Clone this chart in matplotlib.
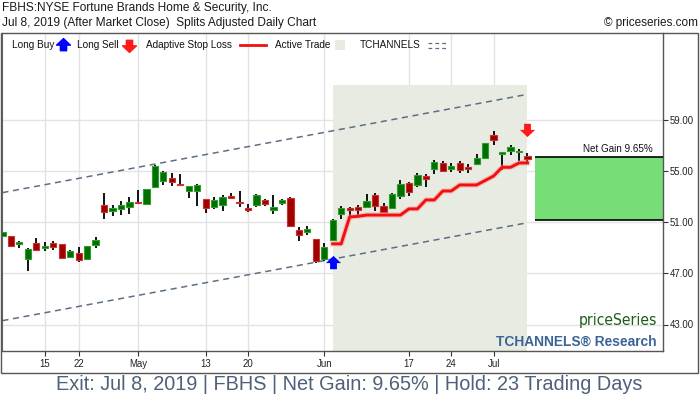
import numpy as np
import matplotlib
matplotlib.use("Agg")
import matplotlib.pyplot as plt
from matplotlib.path import Path
from matplotlib.patches import Rectangle
from matplotlib.lines import Line2D
from matplotlib import font_manager as fm

# ---------------- data ----------------
opens = [49.95, 49.91, 49.30, 48.12, 49.34, 48.95, 49.37, 49.27, 48.30, 48.59,
         48.12, 49.23, 52.34, 51.84, 52.00, 52.18, 52.60, 52.41, 53.77, 54.21,
         54.45, 53.97, 53.45, 53.43, 52.78, 52.18, 52.36, 53.04, 52.57, 52.08,
         52.31, 52.70, 51.97, 52.47, 52.88, 50.38, 50.20, 49.66, 48.09, 49.60,
         51.63, 52.10, 52.16, 52.16, 53.09, 52.23, 52.08, 53.04, 54.03, 53.87,
         54.60, 55.17, 55.62, 55.17, 55.62, 55.28, 55.56, 55.98, 57.80, 56.34,
         56.58, 56.45, 56.16]
highs = [50.25, 49.95, 49.50, 48.95, 49.73, 49.42, 49.55, 49.32, 48.84, 49.03,
         49.15, 49.86, 53.25, 52.31, 52.67, 52.94, 53.48, 53.60, 55.45, 54.97,
         54.81, 54.73, 53.85, 53.98, 52.80, 52.94, 53.12, 53.25, 53.43, 52.41,
         53.20, 52.80, 53.09, 52.83, 52.95, 50.59, 50.70, 49.70, 49.39, 51.22,
         52.26, 52.20, 52.36, 53.20, 53.30, 52.47, 53.25, 54.31, 54.10, 54.81,
         54.76, 55.85, 55.75, 55.59, 55.75, 55.56, 56.30, 57.20, 58.14, 56.50,
         57.02, 56.73, 56.38]
lows = [49.90, 49.03, 48.97, 47.20, 48.72, 48.77, 48.84, 48.08, 48.27, 47.91,
        48.05, 48.98, 51.22, 51.48, 51.55, 51.63, 52.39, 52.31, 53.72, 53.87,
        53.82, 53.85, 52.88, 52.28, 51.69, 52.05, 51.89, 52.78, 52.16, 51.77,
        52.16, 52.26, 51.66, 52.31, 50.70, 49.55, 49.97, 47.83, 47.98, 49.55,
        51.22, 51.42, 51.50, 52.08, 51.89, 51.71, 52.02, 52.78, 53.04, 53.72,
        53.72, 54.76, 54.89, 54.89, 54.86, 54.81, 55.52, 55.95, 57.02, 55.07,
        56.22, 55.80, 55.70]
closes = [50.20, 49.16, 49.45, 48.90, 48.82, 49.13, 49.06, 48.22, 48.74, 48.04,
          49.13, 49.60, 51.81, 52.10, 52.34, 52.55, 52.47, 53.56, 55.38, 54.89,
          54.16, 53.88, 53.82, 53.90, 52.13, 52.70, 52.94, 52.91, 52.49, 51.97,
          53.14, 52.39, 52.18, 52.75, 50.72, 49.97, 50.46, 47.98, 49.03, 51.16,
          52.08, 51.97, 51.92, 52.65, 52.23, 51.79, 53.20, 53.98, 53.35, 54.66,
          54.39, 55.70, 54.99, 55.36, 55.10, 55.17, 55.98, 57.16, 57.44, 56.48,
          56.84, 56.55, 55.91]

entry_idx = 39
exit_idx = 62
stop_loss = [49.30, 49.30, 51.40, 51.45, 51.55, 51.55, 51.55, 51.55, 51.55, 52.03,
             52.03, 52.73, 52.73, 53.43, 53.43, 53.90, 53.90, 53.90, 54.25, 54.60,
             55.28, 55.28, 55.62, 55.62]
buy_arrow_price = 47.80
sell_arrow_price = 58.25
entry_price = 51.14
exit_price = 56.08

channel_x = [0, 62]
channel_upper = [53.30, 60.98]
channel_lower = [43.30, 50.95]

xtick_pos = [5, 9, 16, 24, 29, 38, 48, 53, 58]
xtick_labels = ["15", "22", "May", "13", "20", "Jun", "17", "24", "Jul"]
ytick_vals = [43, 47, 51, 55, 59]

title1 = "FBHS:NYSE Fortune Brands Home & Security, Inc."
title2 = "Jul 8, 2019 (After Market Close)  Splits Adjusted Daily Chart"
caption = "Exit: Jul 8, 2019 | FBHS | Net Gain: 9.65% | Hold: 23 Trading Days"
gain_label = "Net Gain 9.65%"

# ---------------- style ----------------
plt.rcParams["font.family"] = ["Liberation Sans", "DejaVu Sans"]
W, H = 700, 400
fig = plt.figure(figsize=(7, 4), dpi=100)

def fx(x):
    return x / W

def fy(y):
    return 1 - y / H

AX_L, AX_R, AX_T, AX_B = 2, 663, 33, 351
ax = fig.add_axes([fx(AX_L), fy(AX_B), (AX_R - AX_L) / W, (AX_B - AX_T) / H])

GREEN_FACE, GREEN_EDGE = "#006f00", "#2e9e2e"
RED_FACE, RED_EDGE = "#a00000", "#c83232"
SHADE = "#e8ebe1"
GRID = "#e3e3e3"
CHAN = "#5d6f84"

x = np.arange(len(opens))
o = np.array(opens); h = np.array(highs); l = np.array(lows); c = np.array(closes)
up = c >= o

ax.set_xlim(-0.05, 78.0)
ax.set_ylim(40.93, 65.77)

# grid
for xp in xtick_pos:
    ax.axvline(xp, color=GRID, lw=1, zorder=0)
for yv in ytick_vals:
    ax.axhline(yv, color=GRID, lw=1, zorder=0)

# active trade shading
ax.axvspan(entry_idx, exit_idx, ymin=0, ymax=0.836, color=SHADE, lw=0, zorder=0.5)

# channels
ax.plot(channel_x, channel_upper, color=CHAN, lw=1.1, ls=(0, (4, 3)), zorder=2)
ax.plot(channel_x, channel_lower, color=CHAN, lw=1.1, ls=(0, (4, 3)), zorder=2)

# candles
ax.vlines(x, l, h, color="black", lw=1.3, zorder=3)
body_lo = np.minimum(o, c)
body_h = np.maximum(np.abs(c - o), 0.07)
ax.bar(x[up], body_h[up], bottom=body_lo[up], width=0.74, color=GREEN_FACE,
       edgecolor=GREEN_EDGE, lw=0.8, zorder=4)
ax.bar(x[~up], body_h[~up], bottom=body_lo[~up], width=0.74, color=RED_FACE,
       edgecolor=RED_EDGE, lw=0.8, zorder=4)

# stop loss
sx = np.arange(entry_idx, entry_idx + len(stop_loss))
ax.plot(sx, stop_loss, color="#ff9090", lw=3.8, alpha=0.5, zorder=5,
        solid_joinstyle="round")
ax.plot(sx, stop_loss, color="#f01010", lw=2.1, zorder=5, solid_joinstyle="round")

# arrows
up_arrow = Path([(-1, 0.05), (0, 1), (1, 0.05), (0.45, 0.05), (0.45, -0.75),
                 (-0.45, -0.75), (-0.45, 0.05), (-1, 0.05)],
                [Path.MOVETO] + [Path.LINETO] * 6 + [Path.CLOSEPOLY])
down_arrow = Path([(vx, -vy) for vx, vy in up_arrow.vertices], up_arrow.codes)
ax.scatter([entry_idx], [buy_arrow_price], marker=up_arrow, s=120, color="#0000ff",
           lw=0, zorder=6)
ax.scatter([exit_idx], [sell_arrow_price], marker=down_arrow, s=120, color="#ff1a1a",
           lw=0, zorder=6)

# net gain box
x1 = ax.get_xlim()[1]
bx0 = exit_idx + 0.9
ax.add_patch(Rectangle((bx0, entry_price), x1 - bx0, exit_price - entry_price,
                       facecolor="#77dd77", edgecolor="none", zorder=2))
ax.hlines([entry_price, exit_price], bx0, x1, color="black", lw=1.2, zorder=3)

# axes styling
ax.spines["top"].set_visible(False)
for s in ["right", "bottom"]:
    ax.spines[s].set_color("#555555")
    ax.spines[s].set_linewidth(1)
ax.spines["left"].set_color("#666666")
ax.yaxis.tick_right()
ax.set_yticks(ytick_vals)
ax.set_yticklabels([f"{v:.2f}" for v in ytick_vals])
ax.set_xticks(xtick_pos)
ax.set_xticklabels(xtick_labels)
ax.tick_params(axis="y", length=3.5, width=0.8, pad=1.5, labelsize=6.9,
               colors="#333333", labelcolor="#222222")
ax.tick_params(axis="x", length=3.5, width=0.8, pad=2.5, labelsize=6.9,
               colors="#333333", labelcolor="#222222")

# outer frame
fig.add_artist(Rectangle((fx(0.5), fy(373)), fx(697.5), (373 - 33) / H, fill=False,
                         edgecolor="#555555", lw=1, transform=fig.transFigure))

fig.canvas.draw()
renderer = fig.canvas.get_renderer()

def fit(t, target_px):
    w = t.get_window_extent(renderer).width
    t.set_fontsize(t.get_fontsize() * target_px / w)

# titles
t1 = fig.text(fx(2), fy(8), title1, ha="left", va="center", fontsize=8, color="#1a1a1a")
t2 = fig.text(fx(2), fy(23), title2, ha="left", va="center", fontsize=8, color="#1a1a1a")
t3 = fig.text(fx(698), fy(23), "\u00a9 priceseries.com", ha="right", va="center",
              fontsize=8, color="#1a1a1a")
cap = fig.text(fx(349), fy(384), caption, ha="center", va="center", fontsize=12,
               color="#4e6178")

# legend row
LY = 45
leg_fs = 7.2
fig.text(fx(12), fy(LY), "Long Buy", ha="left", va="center", fontsize=leg_fs, color="#111")
fig.text(fx(77), fy(LY), "Long Sell", ha="left", va="center", fontsize=leg_fs, color="#111")
fig.text(fx(146), fy(LY), "Adaptive Stop Loss", ha="left", va="center", fontsize=leg_fs,
         color="#111")
fig.text(fx(275), fy(LY), "Active Trade", ha="left", va="center", fontsize=leg_fs,
         color="#111")
fig.text(fx(360), fy(LY), "TCHANNELS", ha="left", va="center", fontsize=leg_fs,
         color="#111")
fig.add_artist(Line2D([fx(63)], [fy(LY)], marker=up_arrow, markersize=10, color="#0000ff",
                      lw=0, transform=fig.transFigure))
fig.add_artist(Line2D([fx(128.5)], [fy(LY)], marker=down_arrow, markersize=10,
                      color="#ff1a1a", lw=0, transform=fig.transFigure))
fig.add_artist(Line2D([fx(240), fx(266)], [fy(LY), fy(LY)], color="#f01010", lw=2,
                      transform=fig.transFigure))
fig.add_artist(Rectangle((fx(335), fy(LY + 5)), 10 / W, 10 / H, facecolor=SHADE,
                         edgecolor="none", transform=fig.transFigure))
for yy in (LY - 2.5, LY + 2.5):
    fig.add_artist(Line2D([fx(428), fx(447)], [fy(yy), fy(yy)], color=CHAN, lw=0.9,
                          ls=(0, (3, 2.5)), transform=fig.transFigure))

# gain label
gl = fig.text(fx(653), fy(149), gain_label, ha="right", va="center", fontsize=7.5,
              color="#111")

# logo font: prefer a condensed face if one is installed
logo_family = ["Liberation Sans"]
logo_stretch = "normal"
try:
    p = fm.findfont(fm.FontProperties(family="DejaVu Sans", stretch="condensed"),
                    fallback_to_default=False)
    if "ondensed" in p:
        logo_family = ["DejaVu Sans"]
        logo_stretch = "condensed"
except Exception:
    pass
try:
    p = fm.findfont(fm.FontProperties(family="Liberation Sans Narrow"),
                    fallback_to_default=False)
    if "Narrow" in p:
        logo_family = ["Liberation Sans Narrow"]
        logo_stretch = "normal"
except Exception:
    pass

lg1 = fig.text(fx(657), fy(320), "priceSeries", family=logo_family, stretch=logo_stretch,
               ha="right", va="center", fontsize=14, color="#1d5e1d")
lg2 = fig.text(fx(657), fy(341.5), "TCHANNELS\u00ae Research", ha="right", va="center",
               fontsize=10, fontweight="bold", color="#3b6496")

fig.canvas.draw()
renderer = fig.canvas.get_renderer()
fit(t1, 271)
fit(t2, 316)
fit(t3, 95)
fit(cap, 588)
fit(gl, 70)
fit(lg1, 79)
fit(lg2, 160)

fig.savefig("out.png", dpi=100)
